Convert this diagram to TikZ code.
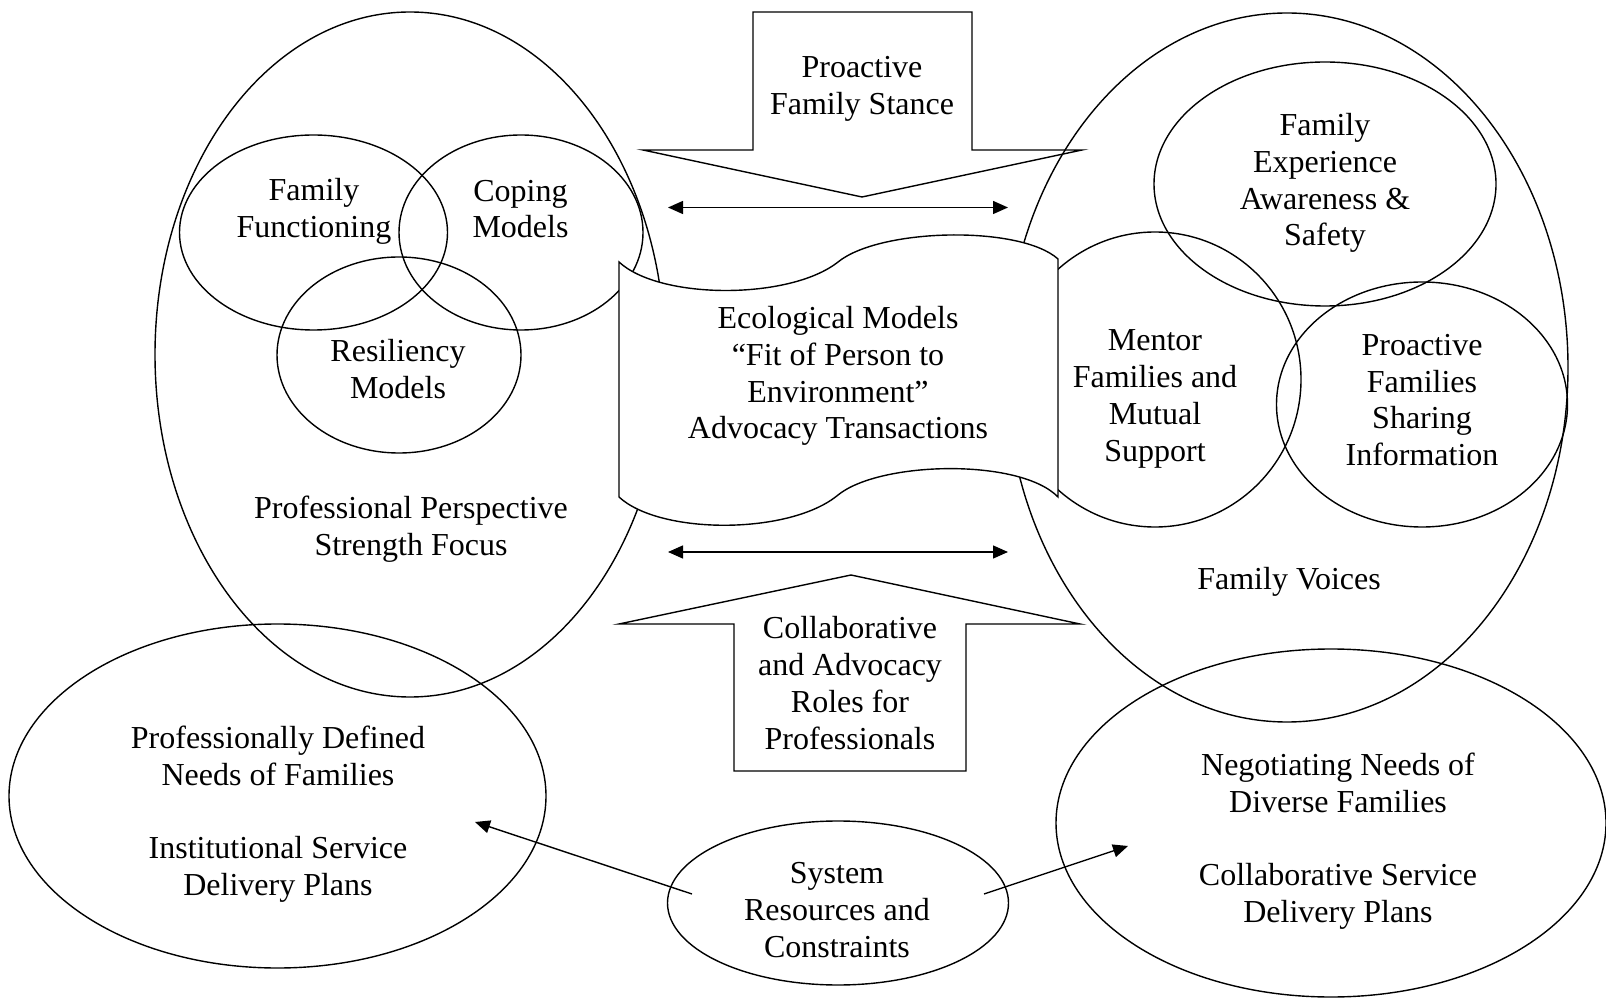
\documentclass[tikz,border=0pt]{standalone}
\usepackage{fontspec}
\setmainfont{Liberation Serif}
\usetikzlibrary{arrows.meta,positioning,shapes.geometric}

\begin{document}
\begin{tikzpicture}[x=0.5pt,y=-0.5pt,line width=0.7pt,
  ring/.style={draw,ellipse,inner sep=0pt},
  txt/.style={align=center,inner sep=0pt,font=\fontsize{16}{18.4}\selectfont},
  twoway/.style={{Triangle[length=7.5pt,width=6.5pt]}-{Triangle[length=7.5pt,width=6.5pt]}},
  oneway/.style={-{Triangle[length=7.5pt,width=6.5pt]}}]
  \useasboundingbox (0,0) rectangle (1606,999);

  % professional side
  \node[ring,minimum width=255pt,minimum height=342.5pt] (profell) at (410,354.5) {};
  \node[ring,minimum width=134pt,minimum height=97.5pt] (funcell) at (313.5,232.5) {};
  \node[ring,minimum width=122pt,minimum height=97.5pt] (copeell) at (521,232.5) {};
  \node[ring,minimum width=122pt,minimum height=98pt] (resell) at (399,355) {};
  \node[txt] (functxt) at (314,211) {Family\\Functioning};
  \node[txt] (copetxt) at (520.5,209) {Coping\\Models};
  \node[txt] (restxt) at (398,369) {Resiliency\\Models};
  \node[txt] (proftxt) at (411,529) {Professional Perspective\\Strength Focus};

  % family side
  \node[ring,minimum width=281pt,minimum height=354.5pt] (voiceell) at (1287,367.5) {};
  \node[ring,minimum width=171pt,minimum height=122pt] (expell) at (1325,184) {};
  \node[ring,minimum width=146pt,minimum height=147.5pt] (mentell) at (1155,379.5) {};
  \node[ring,minimum width=145.5pt,minimum height=122.5pt] (shareell) at (1422,404.5) {};
  \node[txt] (exptxt) at (1325,183) {Family\\Experience\\Awareness \&\\Safety};
  \node[txt] (menttxt) at (1155,399) {Mentor\\Families and\\Mutual\\Support};
  \node[txt] (sharetxt) at (1422,400) {Proactive\\Families\\Sharing\\Information};
  \node[txt] (voicetxt) at (1289,582) {Family Voices};

  % service plans
  \node[ring,minimum width=268.5pt,minimum height=172pt] (needell) at (277.5,796) {};
  \node[ring,minimum width=275pt,minimum height=174pt] (negell) at (1331,823) {};
  \node[ring,minimum width=170.5pt,minimum height=82pt] (sysell) at (838,903) {};
  \node[txt] (needtxt) at (278,814) {Professionally Defined\\Needs of Families\\[18.4pt]Institutional Service\\Delivery Plans};
  \node[txt] (negtxt) at (1338,841) {Negotiating Needs of\\Diverse Families\\[18.4pt]Collaborative Service\\Delivery Plans};
  \node[txt] (systxt) at (837,910) {System\\Resources and\\Constraints};

  % banner in the middle
  \draw[fill=white] (619,262) .. controls (660,300) and (790,300) .. (838,262)
    .. controls (880,228) and (1020,225) .. (1058,259) -- (1058,497)
    .. controls (1020,458) and (880,461) .. (838,495)
    .. controls (790,535) and (660,535) .. (619,497) -- cycle;
  \node[txt] (ecotxt) at (838,376) {Ecological Models\\``Fit of Person to\\Environment''\\Advocacy Transactions};

  % block arrows
  \draw (753,12) -- (972,12) -- (972,150) -- (1082,150) -- (862,197) -- (643,150) -- (753,150) -- cycle;
  \node[txt] (stancetxt) at (862,89) {Proactive\\Family Stance};
  \draw (734,771) -- (966,771) -- (966,624) -- (1080,624) -- (851,575) -- (619,624) -- (734,624) -- cycle;
  \node[txt] (roletxt) at (850,683) {Collaborative\\and Advocacy\\Roles for\\Professionals};

  % connectors
  \coordinate (upL) at (668,207.5);
  \coordinate (upR) at (1008,207.5);
  \coordinate (loL) at (668,552);
  \coordinate (loR) at (1008,552);
  \draw[twoway] (upL) -- (upR);
  \draw[twoway] (loL) -- (loR);
  \coordinate (sysL) at (692,894);
  \coordinate (sysR) at (984,894);
  \coordinate (needtip) at (475,822);
  \coordinate (negtip) at (1128,846);
  \draw[oneway] (sysL) -- (needtip);
  \draw[oneway] (sysR) -- (negtip);
\end{tikzpicture}
\end{document}
